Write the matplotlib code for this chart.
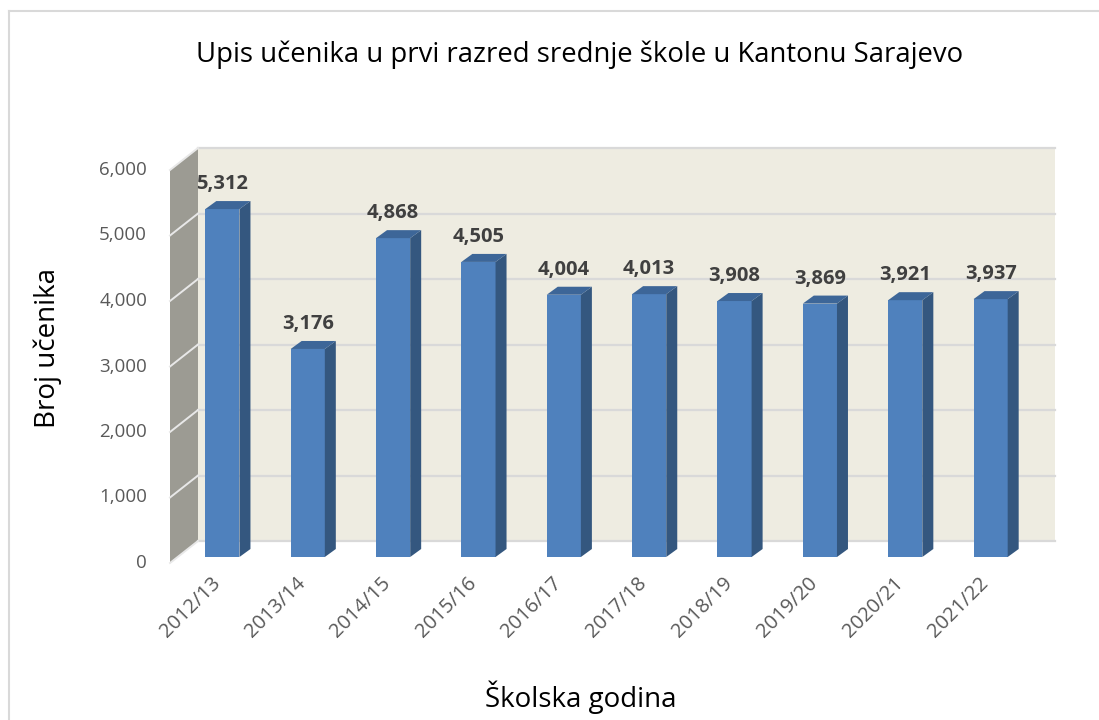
import matplotlib.pyplot as plt
from matplotlib.patches import Polygon
from matplotlib.lines import Line2D

plt.rcParams['font.family'] = ['Open Sans', 'DejaVu Sans']

# podaci
godine = ['2012/13', '2013/14', '2014/15', '2015/16', '2016/17',
          '2017/18', '2018/19', '2019/20', '2020/21', '2021/22']
ucenici = [5312, 3176, 4868, 4505, 4004, 4013, 3908, 3869, 3921, 3937]
y_ticks = [0, 1000, 2000, 3000, 4000, 5000, 6000]

# boje (Excel 3D stil)
c_front = '#4F81BD'
c_side = '#34577F'
c_top = '#3D6698'
c_wall = '#EEECE1'
c_side_wall = '#9C9B93'
c_grid = '#D9D9D9'
c_text = '#595959'

fig = plt.figure(figsize=(10.99, 7.2), dpi=100)
ax = fig.add_axes([178 / 1099, 163 / 720, 857 / 1099, 393 / 720])
xmin, xmax, ymax = -0.52, 9.52, 6000
ax.set_xlim(xmin, xmax)
ax.set_ylim(0, ymax)
ax.axis('off')

# pomak dubine u jedinicama podataka (px -> data)
px_x = 857 / (xmax - xmin)
px_y = 393 / ymax
bdx, bdy = 20 / px_x, 16 / px_y      # zadnji zid
fdx, fdy = -8 / px_x, -6 / px_y      # prednja ravnina
sdx, sdy = 11 / px_x, 8 / px_y       # dubina stupca

# zadnji zid
ax.add_patch(Polygon([(xmin + bdx, bdy), (xmax + bdx, bdy), (xmax + bdx, ymax + bdy),
                      (xmin + bdx, ymax + bdy)], closed=True, fc=c_wall, ec='none',
                     clip_on=False, zorder=0))
# lijevi zid
ax.add_patch(Polygon([(xmin + fdx, fdy), (xmin + bdx, bdy), (xmin + bdx, ymax + bdy),
                      (xmin + fdx, ymax + fdy)], closed=True, fc=c_side_wall, ec='none',
                     clip_on=False, zorder=0))
# mreža i oznake osi y
for t in y_ticks:
    ax.add_line(Line2D([xmin + bdx, xmax + bdx], [t + bdy, t + bdy], color=c_grid,
                       lw=1.6, clip_on=False, zorder=1))
    ax.add_line(Line2D([xmin + fdx, xmin + bdx], [t + fdy, t + bdy], color='#E8E8E8',
                       lw=1.4, clip_on=False, zorder=1))
    ax.text(xmin + fdx - 23 / px_x, t + fdy, f'{t:,}', ha='right', va='center',
            fontsize=13.5, color=c_text)

# stupci
x = list(range(len(godine)))
w = 0.4
ax.bar(x, ucenici, width=w, color=c_front, zorder=3)
for xi, v in zip(x, ucenici):
    r = xi + w / 2
    l = xi - w / 2
    ax.add_patch(Polygon([(r, 0), (r + sdx, sdy), (r + sdx, v + sdy), (r, v)],
                         closed=True, fc=c_side, ec='none', zorder=3))
    ax.add_patch(Polygon([(l, v), (l + sdx, v + sdy), (r + sdx, v + sdy), (r, v)],
                         closed=True, fc=c_top, ec='none', zorder=3))
    ax.text(xi, v + sdy + 7 / px_y, f'{v:,}', ha='center', va='bottom',
            fontsize=14.5, fontweight='bold', color='#404040', zorder=4)
    ax.text(xi - 0.06, fdy - 17 / px_y, godine[xi], rotation=45, rotation_mode='anchor',
            ha='right', va='center', fontsize=14.5, color=c_text)

fig.text(580 / 1099, 1 - 55 / 720, 'Upis učenika u prvi razred srednje škole u Kantonu Sarajevo',
         ha='center', va='center', fontsize=19.8, color='#000000')
fig.text(48 / 1099, 1 - 348 / 720, 'Broj učenika', rotation=90, ha='center', va='center',
         fontsize=20, color='#000000')
fig.text(581 / 1099, 1 - 697 / 720, 'Školska godina', ha='center', va='center',
         fontsize=20, color='#000000')

# okvir
fig.add_artist(Line2D([9 / 1099, 1], [1 - 11 / 720, 1 - 11 / 720], color='#D9D9D9',
                      lw=1.5, transform=fig.transFigure))
fig.add_artist(Line2D([9 / 1099, 9 / 1099], [0, 1 - 11 / 720], color='#D9D9D9',
                      lw=1.5, transform=fig.transFigure))

fig.savefig('out.png', dpi=100)
